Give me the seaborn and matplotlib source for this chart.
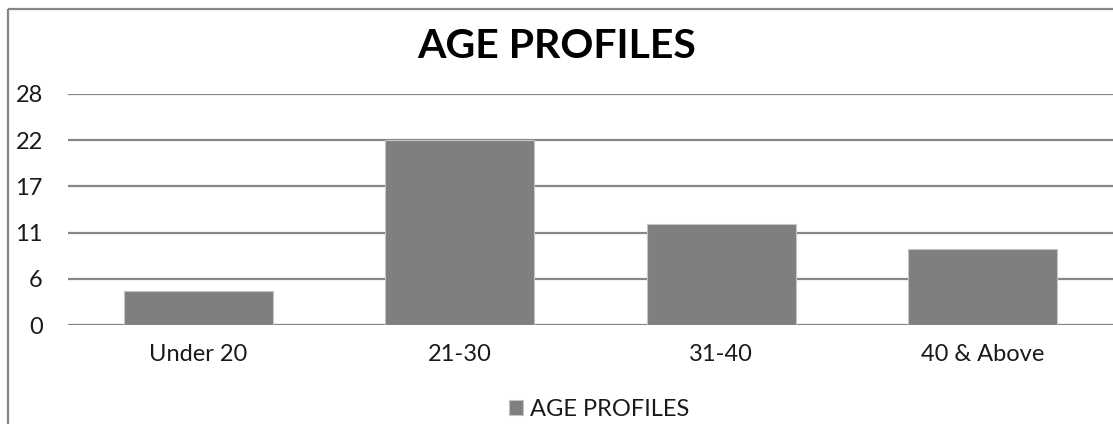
import matplotlib
matplotlib.use("Agg")
import matplotlib.pyplot as plt
import seaborn as sns
import pandas as pd
from matplotlib.lines import Line2D

# Respondents per age band
categories = ["Under 20", "21-30", "31-40", "40 & Above"]
counts = [4, 22, 12, 9]
series_name = "AGE PROFILES"
title = "AGE PROFILES"

# Value axis: major unit 5.5, labels shown rounded
y_ticks = [0, 5.5, 11, 16.5, 22, 27.5]
y_tick_labels = ["0", "6", "11", "17", "22", "28"]

sns.set_theme(style="white")
plt.rcParams["font.family"] = ["Lato", "DejaVu Sans"]

W, H = 1113, 424
fig = plt.figure(figsize=(W / 100, H / 100), dpi=100,
                 facecolor="white", edgecolor="white", linewidth=0)
ax = fig.add_axes([67.75 / W, 99 / H, 1045.25 / W, 231 / H])
ax.patch.set_linewidth(0)

df = pd.DataFrame({"age": categories, "count": counts})
sns.barplot(data=df, x="age", y="count", color="#7f7f7f", saturation=1,
            width=0.57, label=series_name, edgecolor="#c4c4c4",
            linewidth=0.8, ax=ax, zorder=3)

ax.set_ylim(y_ticks[0], y_ticks[-1])
ax.set_xlim(-0.5, len(categories) - 0.5)
ax.set_yticks(y_ticks)
ax.set_yticklabels(y_tick_labels)
ax.set_axisbelow(True)
ax.yaxis.grid(True, color="#868686", linewidth=1.6)
ax.xaxis.grid(False)
for s in ax.spines.values():
    s.set_visible(False)
ax.set_xlabel("")
ax.set_ylabel("")
ax.tick_params(axis="y", length=0, pad=18, labelsize=17, labelcolor="#1a1a1a")
ax.tick_params(axis="x", length=0, pad=14, labelsize=17, labelcolor="#1a1a1a")

fig.text(557 / W, 1 - 46 / H, title, ha="center", va="center",
         fontsize=29.5, fontweight="bold", color="black")

ax.legend(loc="center", bbox_to_anchor=(599 / W, 1 - 409 / H),
          bbox_transform=fig.transFigure, frameon=False, fontsize=17,
          handlelength=0.6, handleheight=0.6, handletextpad=0.3,
          labelcolor="#1a1a1a")

# Chart area border (left and top edges)
x0, y0 = 8 / W, 1 - 8.5 / H
for xs, ys in (([x0, x0], [0, y0]), ([x0, 1.01], [y0, y0])):
    fig.add_artist(Line2D(xs, ys, transform=fig.transFigure,
                          color="#868686", linewidth=1.6,
                          solid_capstyle="butt"))

fig.savefig("out.png", dpi=100, facecolor="white", edgecolor="none")
